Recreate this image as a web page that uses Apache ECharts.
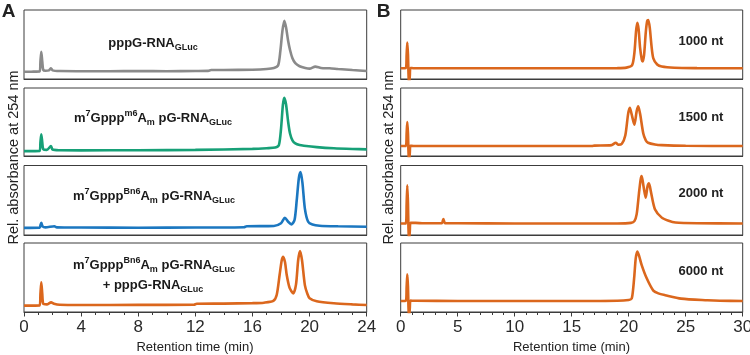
<!DOCTYPE html>
<html>
<head>
<meta charset="utf-8">
<script src="https://cdn.jsdelivr.net/npm/echarts@6/dist/echarts.min.js"></script>
<style>html,body{margin:0;padding:0;background:#fff;}#c{width:750px;height:355px;}</style>
</head>
<body>
<div id="c"></div>
<script>
// ---- Panel A data (retention time in min, relative absorbance 0-100) ----
const tA1 = [0,0.5,1.1,1.15,1.21,1.28,1.35,1.5,1.75,1.89,2.0,2.5,4,6,8,10,12,12.9,13.1,14,16,17,17.5,17.8,17.95,18.1,18.23,18.35,18.5,18.63,18.8,19.0,19.3,19.7,20.0,20.4,20.8,21.4,22,23,24];
const yA1 = [10.5,10.6,10.8,25,39.6,25,13,12,12.5,15.5,12.5,11.5,11.3,11.2,11.5,11.3,11.6,11.8,13,13,13.5,14.5,16,20,40,70,84.5,75,55,42,30,23,18.5,16,15,18,16,15.5,14.5,13,11.6];
const tA2 = [0,1.1,1.15,1.21,1.28,1.35,1.6,1.89,2.0,2.5,4,8,12,16,17,17.6,17.85,18.0,18.13,18.23,18.35,18.5,18.63,18.8,19.0,19.3,19.6,20.5,21.7,23,24];
const yA2 = [7.2,7.5,20,32,20,10,9,14.7,9.5,8.5,8.3,8.5,9,10.5,11.5,12.5,16,40,75,85.7,76,50,33,23,18.5,16,15,13,11.3,10.3,9.8];
const tA3 = [0,1.1,1.15,1.21,1.3,1.5,2.13,2.3,4,8,12,15.4,15.6,17.5,18.0,18.27,18.5,18.74,18.95,19.1,19.25,19.37,19.5,19.67,19.9,20.2,20.7,22,24];
const yA3 = [10.3,10.5,14,17.6,12.5,11,12.5,11,10.7,10.5,10.8,11.2,12.5,13,17,24.7,19,15.3,22,50,82,90.4,75,38,19,15,13.3,12.5,11.9];
const tA4 = [0,1.1,1.15,1.21,1.28,1.35,1.6,1.9,2.1,2.5,4,8,11.9,12.1,14,16,16.8,17.46,17.7,17.9,18.05,18.15,18.28,18.4,18.6,18.86,19.05,19.2,19.33,19.47,19.67,19.85,20.0,20.5,21.7,23,24];
const yA4 = [9.2,9.5,26,43,26,12,11,14,12,10.5,10.2,10.3,10.5,12,12.2,12.8,13.5,16,25,53.6,75,80,72,53.6,35,27,40,75,88.4,75,39,26,20,15.5,12.6,11,10.1];

// ---- Panel B data ----
const tB1 = [0,0.45,0.52,0.58,0.64,0.68,0.73,0.8,0.86,1.2,5,10,15,19,19.8,20.3,20.5,20.65,20.76,20.87,21.0,21.15,21.23,21.35,21.5,21.62,21.72,21.85,22.0,22.16,22.5,22.9,24,26,30];
const yB1 = [15.5,15.7,35,53,35,10,-10,5,16,15.5,15.5,15.5,15.6,15.8,16.5,20,38,70,81.6,72,45,28,25.6,35,68,84,85.5,74,48,30,21,18,16.3,15.8,15.5];
const tB2 = [0,0.45,0.52,0.58,0.64,0.68,0.73,0.8,0.86,1.2,5,10,16.8,17,18.5,18.86,19.1,19.4,19.7,19.95,20.1,20.25,20.5,20.7,20.84,21.0,21.28,21.5,21.7,22.3,22.9,25,30];
const yB2 = [14.6,14.8,33,50,33,8,-10,5,15,14.6,14.6,14.6,14.8,15.3,16,19.5,16.5,18,30,62,71,62,46,66,73,62,33,23,19.5,17,16,15,14.6];
const tB3 = [0,0.45,0.52,0.58,0.64,0.68,0.73,0.8,0.86,1.3,2,3.6,3.74,3.9,5,10,15,19,20.2,20.5,20.7,20.9,21.05,21.14,21.3,21.49,21.65,21.78,21.95,22.3,22.9,23.5,24.1,26,30];
const yB3 = [16.6,16.8,45,71.4,45,10,-10,6,17.5,17.5,16.8,16.8,22.8,17,16.8,16.6,16.6,16.6,17.5,20,30,60,80,84.7,70,53.7,70,74.3,62,37,25,20.5,18,17,16.6];
const tB4 = [0,0.45,0.52,0.58,0.64,0.68,0.73,0.8,0.86,1.3,5,10,15,19,20.0,20.26,20.4,20.5,20.62,20.76,20.9,21.14,21.58,22.16,22.6,23.2,24.6,26.9,28,30];
const yB4 = [16,16.2,36,54.7,36,8,-10,6,16.5,16.2,16,16,16,16.3,17.5,19.4,35,53.6,78,87.7,82,68,48.8,31,27,24.4,19.4,17,16.3,16];

// ---- Axis ticks ----
const ticksA = {min: 0, max: 24, interval: 4};
const ticksB = {min: 0, max: 30, interval: 5};

const traces = [
  {t: tA1, y: yA1, color: '#8a8a8a', panel: 'A'},
  {t: tA2, y: yA2, color: '#17a077', panel: 'A'},
  {t: tA3, y: yA3, color: '#1b77c0', panel: 'A'},
  {t: tA4, y: yA4, color: '#db671d', panel: 'A'},
  {t: tB1, y: yB1, color: '#db671d', panel: 'B'},
  {t: tB2, y: yB2, color: '#db671d', panel: 'B'},
  {t: tB3, y: yB3, color: '#db671d', panel: 'B'},
  {t: tB4, y: yB4, color: '#db671d', panel: 'B'}
];

const tops = [10, 88, 165.5, 243];
const heights = [69, 68, 69.5, 69];
const FONT = '"Liberation Sans", Arial, Helvetica, sans-serif';

const grids = [], xAxes = [], yAxes = [], series = [];
traces.forEach((tr, i) => {
  const row = i % 4;
  const isA = tr.panel === 'A';
  const bottomRow = row === 3;
  grids.push({
    left: isA ? 24 : 400.7,
    width: isA ? 342.7 : 342,
    top: tops[row],
    height: heights[row],
    containLabel: false,
    outerBoundsMode: 'none',
    show: true,
    borderColor: '#3c3c3c',
    borderWidth: 1,
    backgroundColor: 'transparent'
  });
  const tk = isA ? ticksA : ticksB;
  xAxes.push({
    type: 'value', gridIndex: i, min: tk.min, max: tk.max, interval: tk.interval,
    axisLine: {show: true, onZero: false, lineStyle: {color: '#3c3c3c', width: 1}},
    axisTick: {show: bottomRow, length: 4.5, lineStyle: {color: '#3c3c3c'}},
    minorTick: {show: bottomRow, splitNumber: tk.interval, length: 3, lineStyle: {color: '#3c3c3c'}},
    axisLabel: {show: bottomRow, margin: 7, fontSize: 17, color: '#2a2a2a', fontFamily: FONT, hideOverlap: false},
    splitLine: {show: false}
  });
  yAxes.push({
    type: 'value', gridIndex: i, min: 0, max: 100,
    axisLine: {show: false}, axisTick: {show: false}, axisLabel: {show: false}, splitLine: {show: false}
  });
  series.push({
    type: 'line', xAxisIndex: i, yAxisIndex: i,
    data: tr.t.map((t, k) => [t, tr.y[k]]),
    showSymbol: false, symbol: 'none', smooth: 0.25, clip: true,
    lineStyle: {color: tr.color, width: 2.6},
    silent: true, animation: false
  });
});

const rich = {
  b: {fontSize: 13, fontWeight: 'bold', fontFamily: FONT, fill: '#1a1a1a', lineHeight: 18, verticalAlign: 'middle'},
  sup: {fontSize: 9, fontWeight: 'bold', fontFamily: FONT, fill: '#1a1a1a', lineHeight: 10, verticalAlign: 'top'},
  sub: {fontSize: 9, fontWeight: 'bold', fontFamily: FONT, fill: '#1a1a1a', lineHeight: 10, verticalAlign: 'bottom'}
};
function label(x, y, text) {
  return {type: 'text', x: x, y: y, z: 10, style: {text: text, rich: rich, align: 'center', verticalAlign: 'middle', textAlign: 'center', textVerticalAlign: 'middle'}};
}
function plain(x, y, text, size, weight, rot) {
  return {type: 'text', x: x, y: y, rotation: rot || 0, z: 10,
    style: {text: text, fontSize: size, fontWeight: weight, fontFamily: FONT, fill: '#222', align: 'center', verticalAlign: 'middle', textAlign: 'center', textVerticalAlign: 'middle'}};
}

const graphics = [
  label(153, 43, '{b|pppG-RNA}{sub|GLuc}'),
  label(153, 118, '{b|m}{sup|7}{b|Gppp}{sup|m6}{b|A}{sub|m}{b| pG-RNA}{sub|GLuc}'),
  label(154, 196.5, '{b|m}{sup|7}{b|Gppp}{sup|Bn6}{b|A}{sub|m}{b| pG-RNA}{sub|GLuc}'),
  label(154, 265.5, '{b|m}{sup|7}{b|Gppp}{sup|Bn6}{b|A}{sub|m}{b| pG-RNA}{sub|GLuc}'),
  label(153, 285.5, '{b|+ pppG-RNA}{sub|GLuc}'),
  plain(701, 41, '1000 nt', 13, 'bold'),
  plain(701, 117.5, '1500 nt', 13, 'bold'),
  plain(701, 193.5, '2000 nt', 13, 'bold'),
  plain(701, 271.5, '6000 nt', 13, 'bold'),
  plain(195, 347.5, 'Retention time (min)', 13, 'normal'),
  plain(571.5, 347.5, 'Retention time (min)', 13, 'normal'),
  plain(14, 157.5, 'Rel. absorbance at 254 nm', 14.5, 'normal', Math.PI / 2),
  plain(388.5, 157.5, 'Rel. absorbance at 254 nm', 14.5, 'normal', Math.PI / 2),
  plain(8.5, 11.5, 'A', 19, 'bold'),
  plain(383.5, 11.5, 'B', 19, 'bold')
];

const chart = echarts.init(document.getElementById('c'), null, {renderer: 'canvas', width: 750, height: 355});
chart.setOption({
  animation: false,
  backgroundColor: '#ffffff',
  grid: grids, xAxis: xAxes, yAxis: yAxes, series: series,
  graphic: graphics
});
</script>
</body>
</html>
